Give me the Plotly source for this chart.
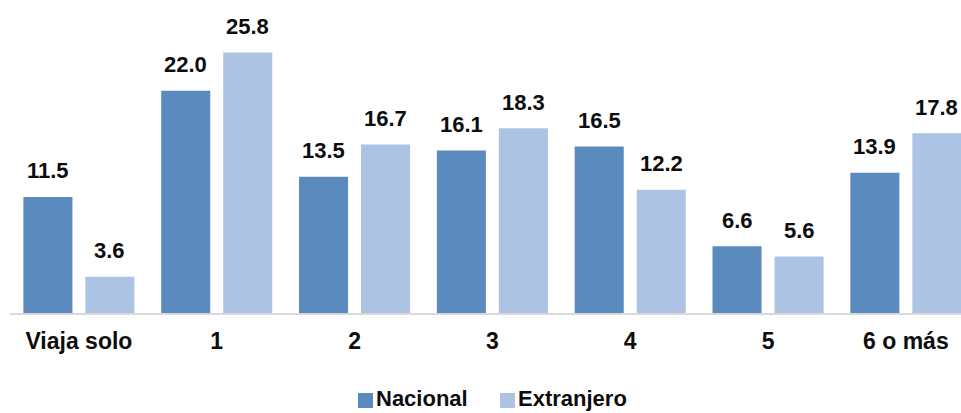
import plotly.graph_objects as go

categories = ["Viaja solo", "1", "2", "3", "4", "5", "6 o más"]
nacional = [11.5, 22.0, 13.5, 16.1, 16.5, 6.6, 13.9]
extranjero = [3.6, 25.8, 16.7, 18.3, 12.2, 5.6, 17.8]
series_names = ["Nacional", "Extranjero"]

COL_NAC = "#5b8bbe"
COL_EXT = "#acc3e4"
FONT = "Arial, Liberation Sans, sans-serif"
TXT = "#0d0d0d"

BAR_W = 0.356
HALF_GAP = 0.047

W, H = 961, 413
ML, MB = 10, 100
PW, PH = W - ML, H - MB

fig = go.Figure()
fig.add_trace(go.Bar(
    x=categories, y=nacional, name=series_names[0],
    marker=dict(color=COL_NAC, line=dict(width=0)),
    width=BAR_W, offset=-(BAR_W + HALF_GAP),
))
fig.add_trace(go.Bar(
    x=categories, y=extranjero, name=series_names[1],
    marker=dict(color=COL_EXT, line=dict(width=0)),
    width=BAR_W, offset=HALF_GAP,
))

# value labels above each bar
for i, c in enumerate(categories):
    for val, shift in ((nacional[i], -31), (extranjero[i], 31)):
        fig.add_annotation(
            x=c, y=val, text=f"<b>{val:.1f}</b>", showarrow=False,
            xshift=shift, yshift=26, yanchor="middle",
            font=dict(family=FONT, size=22, color=TXT),
        )

# legend: small square swatch followed by bold name
def px_x(px):
    return (px - ML) / PW

def px_y(py):
    return (PH - py) / PH

legend_items = [(series_names[0], COL_NAC, 358), (series_names[1], COL_EXT, 500)]
for name, col, x0 in legend_items:
    fig.add_shape(
        type="rect", xref="paper", yref="paper",
        x0=px_x(x0), x1=px_x(x0 + 15), y0=px_y(408), y1=px_y(393),
        fillcolor=col, line=dict(width=0),
    )
    fig.add_annotation(
        xref="paper", yref="paper", x=px_x(x0 + 17), y=px_y(398.5),
        xanchor="left", yanchor="middle", showarrow=False, borderpad=0,
        text=f"<b>{name}</b>",
        font=dict(family=FONT, size=22, color=TXT),
    )

fig.update_layout(
    width=W, height=H,
    margin=dict(l=ML, r=0, t=0, b=MB),
    paper_bgcolor="white", plot_bgcolor="white",
    barmode="group",
    showlegend=False,
    font=dict(family=FONT),
)
fig.update_xaxes(
    type="category", range=[-0.5, 6.40],
    showline=True, linecolor="#d9d9d9", linewidth=2,
    showgrid=False, ticks="", ticklabelstandoff=6,
    tickfont=dict(family=FONT, size=23, color=TXT, weight="bold"),
)
fig.update_yaxes(range=[0, 31.0], visible=False, showgrid=False)

fig.write_html("out.html")
